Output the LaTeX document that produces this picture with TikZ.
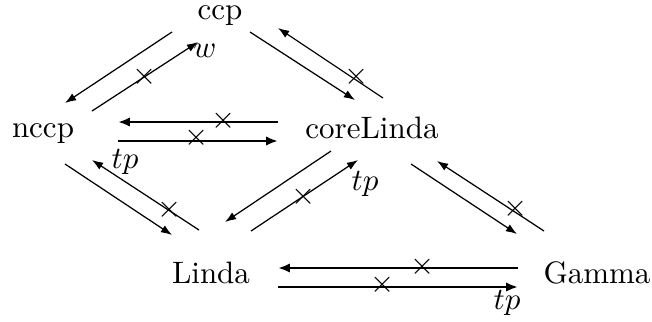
\documentclass[tikz,border=0pt]{standalone}
\usetikzlibrary{arrows.meta}
\tikzset{
  obj/.style={anchor=base, inner sep=0pt, font=\fontsize{10}{12}\selectfont},
  thinarr/.style={line width=0.4pt, -{Latex[length=3.6pt,width=2.6pt]}},
  thickarr/.style={line width=0.9pt, -{Latex[length=3.8pt,width=3pt]}},
  crossmark/.style={inner sep=0pt, anchor=center},
  lbl/.style={inner sep=0pt, anchor=center}
}
\begin{document}
\begin{tikzpicture}[x=0.3226pt, y=-0.3226pt]
\useasboundingbox (0,0) rectangle (652,321);
% objects
\node[obj] (ccp) at (220,19) {ccp};
\node[obj] (nccp) at (43,137) {nccp};
\node[obj] (cl) at (372,138) {coreLinda};
\node[obj] (linda) at (211,283) {Linda};
\node[obj] (gamma) at (597,283) {Gamma};
% connector ends
\coordinate (a1s) at (172,32);  \coordinate (a1e) at (65,103);
\coordinate (a2s) at (92,111);  \coordinate (a2e) at (198,42);
\coordinate (a3s) at (250,32);  \coordinate (a3e) at (355,100);
\coordinate (a4s) at (383,98);  \coordinate (a4e) at (278,28);
\coordinate (a5s) at (278,122); \coordinate (a5e) at (118,122);
\coordinate (a6s) at (118,141); \coordinate (a6e) at (278,141);
\coordinate (a7s) at (65,164);  \coordinate (a7e) at (172,235);
\coordinate (a8s) at (199,230); \coordinate (a8e) at (92,160);
\coordinate (a9s) at (331,151); \coordinate (a9e) at (225,222);
\coordinate (a10s) at (251,231); \coordinate (a10e) at (358,160);
\coordinate (a11s) at (411,164); \coordinate (a11e) at (517,234);
\coordinate (a12s) at (544,231); \coordinate (a12e) at (437,161);
\coordinate (a13s) at (518,268); \coordinate (a13e) at (278,268);
\coordinate (a14s) at (278,287); \coordinate (a14e) at (518,287);
% arrows
\draw[thinarr] (a1s) -- (a1e);
\draw[thinarr] (a2s) -- (a2e);
\draw[thinarr] (a3s) -- (a3e);
\draw[thinarr] (a4s) -- (a4e);
\draw[thickarr] (a5s) -- (a5e);
\draw[thickarr] (a6s) -- (a6e);
\draw[thinarr] (a7s) -- (a7e);
\draw[thinarr] (a8s) -- (a8e);
\draw[thinarr] (a9s) -- (a9e);
\draw[thinarr] (a10s) -- (a10e);
\draw[thinarr] (a11s) -- (a11e);
\draw[thinarr] (a12s) -- (a12e);
\draw[thickarr] (a13s) -- (a13e);
\draw[thickarr] (a14s) -- (a14e);
% crosses
\node[crossmark] (x2) at (145,77) {$\times$};
\node[crossmark] (x4) at (357,77) {$\times$};
\node[crossmark] (x5) at (224,121) {$\times$};
\node[crossmark] (x6) at (197,138) {$\times$};
\node[crossmark] (x8) at (170,210) {$\times$};
\node[crossmark] (x10) at (304,197) {$\times$};
\node[crossmark] (x12) at (516,209) {$\times$};
\node[crossmark] (x13) at (423,267) {$\times$};
\node[crossmark] (x14) at (383,285) {$\times$};
% labels
\node[lbl] (lw) at (205,51) {$w$};
\node[lbl] (ltp1) at (125,162) {$tp$};
\node[lbl] (ltp2) at (365,184) {$tp$};
\node[lbl] (ltp3) at (507,303) {$tp$};
\end{tikzpicture}
\end{document}
